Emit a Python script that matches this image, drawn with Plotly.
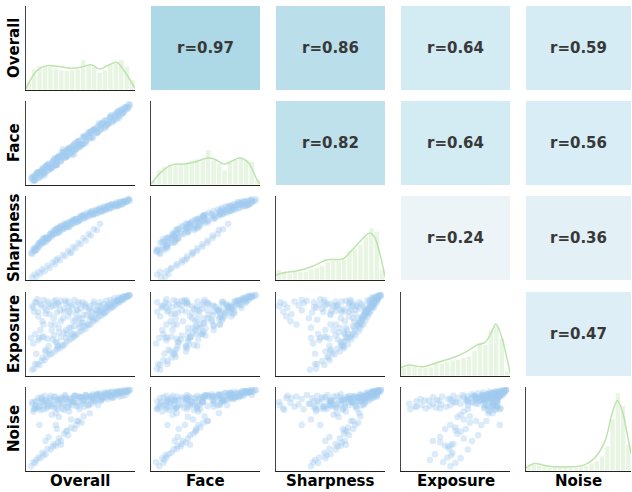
import plotly.graph_objects as go

names = ["Overall", "Face", "Sharpness", "Exposure", "Noise"]

# ---- samples read/estimated from the scatter clouds (grouped by cloud structure) ----
overall = [
    0.03,0.05,0.08,0.10,0.12,0.15,0.17,0.20,0.22,0.25,0.27,0.30,0.32,0.35,0.37,0.40,0.42,0.45,0.47,0.50,
    0.52,0.55,0.57,0.60,0.62,0.64,0.66,0.68,0.70,0.72,0.74,0.76,0.78,0.80,0.82,0.84,0.86,0.88,0.90,0.92,
    0.94,0.96,0.98,0.58,0.44,0.33,0.81,0.87,0.91,0.73,
    0.02,0.04,0.06,0.09,0.11,0.13,0.16,0.18,0.21,0.24,0.26,0.29,0.31,0.34,0.38,0.41,0.44,0.48,0.51,0.28,
    0.14,0.36,0.46,0.07,0.23,
    0.03,0.05,0.07,0.09,0.11,0.13,0.15,0.18,0.20,0.23,0.25,0.28,0.30,0.33,0.35,0.38,0.40,0.43,0.45,0.48,
    0.50,0.53,0.55,0.58,0.60,0.63,0.66,0.69,0.26,0.41,
    0.10,0.14,0.19,0.24,0.29,0.34,0.39,0.43,0.47,0.51,0.54,0.56,0.59,0.61,0.63,0.65,0.67,0.69,0.71,0.73,
    0.75,0.77,0.79,0.81,0.83,0.85,0.87,0.89,0.91,0.93,0.95,0.97,0.16,0.27,0.37,0.49,0.60,0.70,0.79,0.85,
    0.22,0.31,0.53,0.65,0.75,
    0.04,0.06,0.09,0.12,0.14,0.17,0.19,0.21,0.24,0.27,0.29,0.31,0.34,0.36,0.39,0.41,0.44,0.46,0.49,0.52,
    0.55,0.08,0.16,0.26,0.38,
    0.06,0.13,0.19,0.28,0.36,0.43,0.49,0.54,0.59,0.63,0.67,0.71,0.75,0.79,0.83,0.85,0.87,0.89,0.91,0.93,
    0.95,0.97,0.69,0.77,0.61,
]
face = [
    0.06,0.03,0.13,0.06,0.13,0.09,0.21,0.20,0.19,0.31,0.22,0.32,0.39,0.34,0.33,0.43,0.35,0.50,0.47,0.48,
    0.58,0.50,0.58,0.64,0.56,0.66,0.63,0.75,0.69,0.76,0.69,0.78,0.76,0.85,0.78,0.85,0.89,0.82,0.92,0.89,
    0.95,0.94,0.98,0.64,0.36,0.42,0.76,0.90,0.87,0.78,
    0.05,0.02,0.09,0.12,0.08,0.17,0.14,0.22,0.19,0.27,0.23,0.33,0.28,0.38,0.35,0.45,0.41,0.52,0.48,0.31,
    0.11,0.40,0.43,0.10,0.26,
    0.07,0.03,0.11,0.06,0.14,0.16,0.12,0.22,0.17,0.27,0.22,0.32,0.27,0.37,0.32,0.42,0.37,0.47,0.42,0.52,
    0.47,0.57,0.52,0.62,0.57,0.67,0.63,0.72,0.30,0.38,
    0.13,0.12,0.23,0.21,0.33,0.31,0.43,0.40,0.52,0.48,0.58,0.53,0.63,0.58,0.67,0.62,0.71,0.66,0.75,0.70,
    0.79,0.74,0.82,0.78,0.86,0.82,0.90,0.86,0.93,0.91,0.96,0.95,0.20,0.24,0.41,0.45,0.64,0.67,0.83,0.80,
    0.18,0.35,0.49,0.69,0.72,
    0.08,0.03,0.13,0.09,0.19,0.14,0.24,0.18,0.29,0.23,0.33,0.27,0.39,0.32,0.44,0.37,0.49,0.42,0.53,0.48,
    0.60,0.12,0.20,0.22,0.42,
    0.04,0.17,0.16,0.31,0.33,0.47,0.45,0.58,0.56,0.67,0.64,0.74,0.72,0.83,0.80,0.88,0.84,0.92,0.88,0.95,
    0.93,0.99,0.73,0.74,0.65,
]
sharpness = [
    0.30,0.36,0.37,0.44,0.42,0.49,0.47,0.54,0.52,0.59,0.56,0.63,0.60,0.67,0.64,0.70,0.68,0.74,0.71,0.77,
    0.74,0.79,0.77,0.82,0.79,0.84,0.81,0.86,0.83,0.88,0.85,0.89,0.87,0.92,0.89,0.93,0.90,0.95,0.92,0.96,
    0.95,0.98,0.97,0.80,0.70,0.62,0.91,0.92,0.95,0.86,
    0.31,0.33,0.38,0.39,0.45,0.44,0.50,0.49,0.55,0.55,0.60,0.59,0.64,0.63,0.68,0.67,0.72,0.72,0.77,0.61,
    0.46,0.66,0.74,0.35,0.57,
    0.00,0.04,0.01,0.07,0.05,0.11,0.08,0.15,0.12,0.19,0.17,0.24,0.22,0.29,0.27,0.34,0.32,0.39,0.37,0.44,
    0.42,0.50,0.47,0.55,0.53,0.61,0.60,0.68,0.22,0.31,
    0.40,0.50,0.49,0.60,0.58,0.68,0.65,0.73,0.70,0.78,0.75,0.82,0.78,0.84,0.80,0.86,0.82,0.88,0.84,0.90,
    0.86,0.91,0.88,0.93,0.90,0.95,0.91,0.96,0.93,0.97,0.96,0.99,0.45,0.62,0.64,0.76,0.83,0.87,0.92,0.92,
    0.53,0.65,0.79,0.83,0.89,
    0.36,0.34,0.43,0.45,0.44,0.51,0.50,0.56,0.55,0.61,0.57,0.65,0.62,0.68,0.64,0.71,0.69,0.74,0.72,0.78,
    0.76,0.40,0.50,0.56,0.70,
    0.35,0.48,0.50,0.63,0.66,0.72,0.73,0.78,0.81,0.81,0.85,0.84,0.88,0.88,0.92,0.91,0.94,0.93,0.96,0.95,
    0.97,0.99,0.84,0.90,0.80,
]
exposure = [
    0.05,0.06,0.12,0.11,0.16,0.17,0.21,0.24,0.25,0.28,0.31,0.32,0.36,0.37,0.41,0.43,0.45,0.48,0.50,0.53,
    0.55,0.57,0.61,0.62,0.66,0.67,0.69,0.72,0.73,0.76,0.77,0.79,0.82,0.83,0.85,0.87,0.89,0.90,0.93,0.94,
    0.96,0.97,0.99,0.62,0.47,0.35,0.84,0.91,0.93,0.76,
    0.45,0.38,0.50,0.42,0.55,0.47,0.30,0.44,0.62,0.48,0.40,0.58,0.66,0.52,0.72,0.50,0.60,0.70,0.64,0.35,
    0.46,0.55,0.75,0.25,0.43,
    0.85,0.78,0.90,0.72,0.88,0.66,0.83,0.91,0.75,0.86,0.62,0.89,0.80,0.70,0.92,0.84,0.77,0.87,0.68,0.90,
    0.82,0.74,0.88,0.79,0.85,0.91,0.80,0.86,0.93,0.58,
    0.45,0.62,0.35,0.70,0.52,0.78,0.58,0.66,0.80,0.70,0.86,0.74,0.82,0.78,0.88,0.80,0.85,0.90,0.82,0.88,
    0.92,0.86,0.93,0.90,0.95,0.92,0.96,0.94,0.97,0.98,0.97,0.99,0.28,0.40,0.50,0.62,0.72,0.79,0.88,0.91,
    0.55,0.46,0.64,0.76,0.84,
    0.83,0.90,0.78,0.86,0.93,0.80,0.88,0.84,0.91,0.77,0.87,0.92,0.82,0.89,0.79,0.85,0.93,0.81,0.88,0.90,
    0.84,0.94,0.76,0.86,0.91,
    0.12,0.20,0.28,0.34,0.45,0.50,0.58,0.60,0.68,0.70,0.76,0.78,0.83,0.86,0.88,0.92,0.93,0.95,0.96,0.97,
    0.98,0.99,0.80,0.84,0.71,
]
noise = [
    0.82,0.75,0.85,0.78,0.88,0.80,0.76,0.86,0.79,0.90,0.77,0.87,0.81,0.91,0.78,0.88,0.80,0.92,0.83,0.89,
    0.82,0.93,0.85,0.88,0.94,0.84,0.92,0.95,0.86,0.93,0.96,0.88,0.94,0.97,0.90,0.95,0.98,0.91,0.96,0.98,
    0.93,0.97,0.99,0.80,0.85,0.76,0.89,0.96,0.92,0.90,
    0.03,0.08,0.07,0.14,0.13,0.20,0.18,0.25,0.24,0.31,0.29,0.38,0.35,0.44,0.42,0.52,0.50,0.60,0.58,0.33,
    0.17,0.47,0.55,0.11,0.28,
    0.84,0.76,0.80,0.89,0.74,0.83,0.92,0.78,0.89,0.81,0.91,0.75,0.88,0.82,0.93,0.77,0.89,0.84,0.92,0.79,
    0.90,0.85,0.93,0.80,0.91,0.87,0.94,0.88,0.55,0.62,
    0.55,0.84,0.40,0.86,0.65,0.88,0.72,0.89,0.60,0.90,0.78,0.91,0.70,0.92,0.85,0.93,0.80,0.94,0.88,0.95,
    0.90,0.96,0.92,0.97,0.93,0.96,0.95,0.98,0.96,0.98,0.97,1.00,0.35,0.50,0.48,0.75,0.82,0.86,0.90,0.94,
    0.68,0.30,0.66,0.87,0.93,
    0.72,0.85,0.78,0.90,0.75,0.86,0.80,0.92,0.77,0.87,0.82,0.90,0.74,0.88,0.81,0.84,0.92,0.79,0.91,0.85,
    0.90,0.76,0.86,0.70,0.84,
    0.78,0.86,0.82,0.85,0.88,0.84,0.90,0.87,0.91,0.89,0.93,0.90,0.94,0.92,0.95,0.97,0.94,0.98,0.96,0.99,
    0.97,0.99,0.91,0.95,0.89,
]
samples = [overall, face, sharpness, exposure, noise]

# ---- diagonal histograms (20 bins on 0..1, height as fraction of panel) ----
bin_centers = [0.025, 0.075, 0.125, 0.175, 0.225, 0.275, 0.325, 0.375, 0.425, 0.475,
               0.525, 0.575, 0.625, 0.675, 0.725, 0.775, 0.825, 0.875, 0.925, 0.975]
hist_overall = [0.10,0.25,0.29,0.29,0.28,0.26,0.24,0.23,0.24,0.25,0.36,0.29,0.28,0.21,0.24,0.31,0.32,0.36,0.28,0.12]
hist_face = [0.05,0.18,0.22,0.24,0.24,0.25,0.27,0.29,0.31,0.32,0.42,0.30,0.26,0.18,0.28,0.31,0.33,0.30,0.28,0.06]
hist_sharpness = [0.12,0.10,0.08,0.10,0.10,0.10,0.13,0.15,0.17,0.22,0.23,0.23,0.25,0.35,0.37,0.42,0.52,0.62,0.58,0.12]
hist_exposure = [0.10,0.12,0.12,0.10,0.10,0.11,0.16,0.15,0.17,0.19,0.20,0.22,0.24,0.30,0.40,0.37,0.55,0.60,0.45,0.06]
hist_noise = [0.06,0.08,0.07,0.06,0.05,0.05,0.05,0.05,0.05,0.05,0.06,0.07,0.09,0.12,0.18,0.30,0.62,0.93,0.78,0.32]
hists = [hist_overall, hist_face, hist_sharpness, hist_exposure, hist_noise]

# ---- KDE curves ----
kde_overall_x = [0.0, 0.1, 0.19, 0.3, 0.41, 0.5, 0.6, 0.67, 0.75, 0.83, 0.9, 1.0]
kde_overall_y = [0.02, 0.23, 0.29, 0.28, 0.26, 0.27, 0.30, 0.25, 0.29, 0.33, 0.23, 0.02]
kde_face_x = [0.0, 0.09, 0.19, 0.3, 0.39, 0.52, 0.58, 0.67, 0.75, 0.81, 0.89, 0.97, 1.0]
kde_face_y = [0.01, 0.15, 0.24, 0.25, 0.27, 0.32, 0.31, 0.25, 0.29, 0.32, 0.27, 0.07, 0.01]
kde_sharpness_x = [0.0, 0.08, 0.2, 0.33, 0.47, 0.61, 0.7, 0.8, 0.86, 0.9, 1.0]
kde_sharpness_y = [0.06, 0.09, 0.11, 0.16, 0.24, 0.25, 0.36, 0.50, 0.56, 0.52, 0.04]
kde_exposure_x = [0.0, 0.07, 0.2, 0.33, 0.5, 0.6, 0.7, 0.77, 0.83, 0.87, 0.92, 1.0]
kde_exposure_y = [0.10, 0.13, 0.11, 0.16, 0.23, 0.29, 0.37, 0.40, 0.52, 0.62, 0.48, 0.04]
kde_noise_x = [0.0, 0.08, 0.2, 0.4, 0.55, 0.65, 0.75, 0.82, 0.87, 0.92, 0.97, 1.0]
kde_noise_y = [0.04, 0.09, 0.06, 0.05, 0.07, 0.15, 0.35, 0.68, 0.84, 0.70, 0.40, 0.21]
kdes = [(kde_overall_x, kde_overall_y), (kde_face_x, kde_face_y), (kde_sharpness_x, kde_sharpness_y),
        (kde_exposure_x, kde_exposure_y), (kde_noise_x, kde_noise_y)]

# ---- correlation labels for the upper triangle ----
r_row = [0, 0, 0, 0, 1, 1, 1, 2, 2, 3]
r_col = [1, 2, 3, 4, 2, 3, 4, 3, 4, 4]
r_vals = [0.97, 0.86, 0.64, 0.59, 0.82, 0.64, 0.56, 0.24, 0.36, 0.47]

# ---- layout geometry (pixels) ----
W, H = 632, 492
col_px = [(26, 135), (151, 260), (276, 385), (401, 510), (526, 631)]
row_px = [(6, 90), (101, 185), (196, 280), (292, 376), (387, 471)]

corr_scale = [[0.0, "#F0F5F8"], [0.05, "#EDF4F7"], [0.2, "#E3F0F6"], [0.375, "#DCEEF6"],
              [0.55, "#D3EBF3"], [0.775, "#BFE1EC"], [0.96, "#ADD8E6"], [1.0, "#AAD6E5"]]

fig = go.Figure()
layout = dict(width=W, height=H, margin=dict(l=0, r=0, t=0, b=0),
              paper_bgcolor="white", plot_bgcolor="white", showlegend=False)

def ax_names(k):
    return ("xaxis" if k == 1 else f"xaxis{k}", "yaxis" if k == 1 else f"yaxis{k}",
            "x" if k == 1 else f"x{k}", "y" if k == 1 else f"y{k}")

annotations = []
r_lookup = {(a, b): v for a, b, v in zip(r_row, r_col, r_vals)}

for i in range(5):
    for j in range(5):
        k = i * 5 + j + 1
        xa, ya, xr, yr = ax_names(k)
        xd = [col_px[j][0] / W, col_px[j][1] / W]
        yd = [(H - row_px[i][1]) / H, (H - row_px[i][0]) / H]
        base = dict(showgrid=False, zeroline=False, showticklabels=False, ticks="")
        if i == j:
            fig.add_trace(go.Bar(x=bin_centers, y=hists[i], width=0.05, xaxis=xr, yaxis=yr,
                                 marker=dict(color="rgba(190,228,175,0.36)",
                                             line=dict(color="white", width=0.8)),
                                 hoverinfo="skip"))
            kx, ky = kdes[i]
            fig.add_trace(go.Scatter(x=kx, y=ky, mode="lines", xaxis=xr, yaxis=yr,
                                     line=dict(color="rgba(185,225,170,0.95)", width=1.5, shape="spline"),
                                     hoverinfo="skip"))
            layout[xa] = dict(domain=xd, anchor=yr, range=[0, 1], showline=True,
                              linecolor="#222", linewidth=1, **base)
            layout[ya] = dict(domain=yd, anchor=xr, range=[0, 1], showline=True,
                              linecolor="#444", linewidth=1, **base)
        elif i > j:
            fig.add_trace(go.Scatter(x=samples[j], y=samples[i], mode="markers", xaxis=xr, yaxis=yr,
                                     marker=dict(color="rgb(160,202,238)", size=6.5, opacity=0.38,
                                                 line=dict(width=0)),
                                     hoverinfo="skip"))
            layout[xa] = dict(domain=xd, anchor=yr, range=[-0.03, 1.03], showline=True,
                              linecolor="#222", linewidth=1, **base)
            layout[ya] = dict(domain=yd, anchor=xr, range=[-0.03, 1.03], showline=True,
                              linecolor="#444", linewidth=1, **base)
        else:
            r = r_lookup[(i, j)]
            fig.add_trace(go.Heatmap(z=[[r]], x0=0.5, dx=1, y0=0.5, dy=1, xaxis=xr, yaxis=yr,
                                     zmin=0.2, zmax=1.0, showscale=False,
                                     colorscale=corr_scale, hoverinfo="skip"))
            layout[xa] = dict(domain=xd, anchor=yr, range=[0, 1], visible=False, **base)
            layout[ya] = dict(domain=yd, anchor=xr, range=[0, 1], visible=False, **base)
            annotations.append(dict(x=0.5, y=0.5, xref=xr, yref=yr, text=f"r={r:.2f}",
                                    showarrow=False,
                                    font=dict(family="DejaVu Sans", size=15, color="#383838",
                                              weight="bold")))

for j, nm in enumerate(names):
    cx = (col_px[j][0] + col_px[j][1]) / 2 / W
    annotations.append(dict(x=cx, y=(H - 481) / H, xref="paper", yref="paper", text=nm,
                            showarrow=False, xanchor="center", yanchor="middle",
                            font=dict(family="DejaVu Sans", size=15, color="black", weight="bold")))
for i, nm in enumerate(names):
    cy = (H - (row_px[i][0] + row_px[i][1]) / 2) / H
    annotations.append(dict(x=14 / W, y=cy, xref="paper", yref="paper", text=nm, textangle=-90,
                            showarrow=False, xanchor="center", yanchor="middle",
                            font=dict(family="DejaVu Sans", size=15, color="black", weight="bold")))

layout["annotations"] = annotations
fig.update_layout(**layout)
fig.write_html("out.html", config={"displayModeBar": False},
               post_script="document.body.style.margin='0px';document.body.style.overflow='hidden';")
